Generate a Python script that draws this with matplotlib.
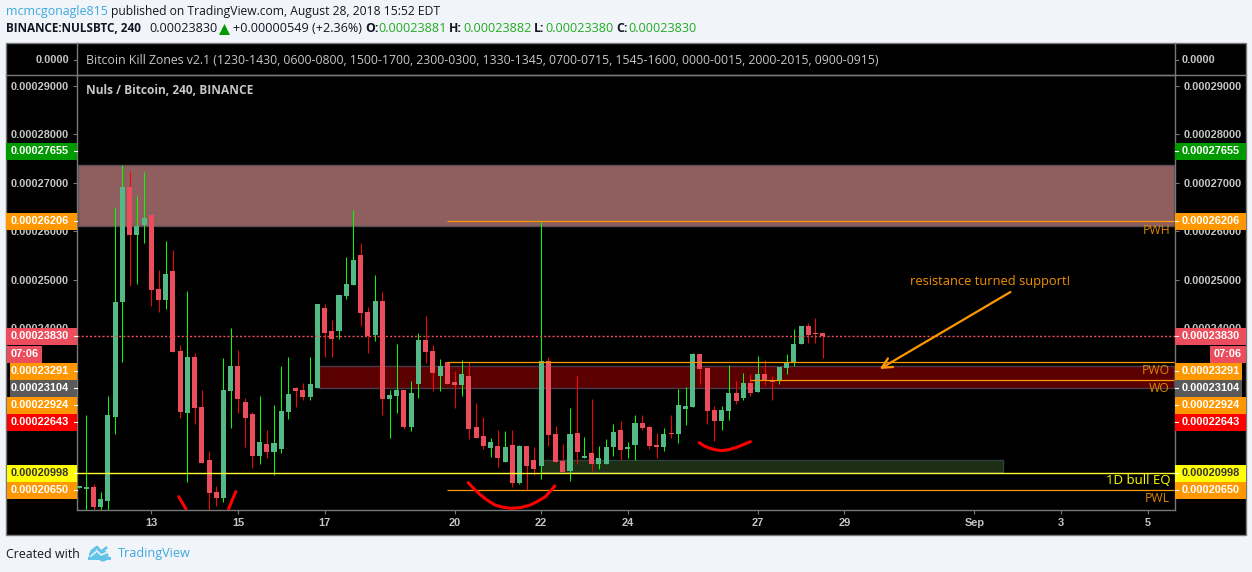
"""NULS/BTC 4h candles with zones, recreated from a TradingView snapshot"""

import matplotlib
matplotlib.use("Agg")
import matplotlib.pyplot as plt
from matplotlib.patches import Circle, Polygon, Rectangle
import numpy as np

# prices are in satoshi (1e-8 BTC); bar 0 is the first 4h bar of Aug 13
first_bar = -10
opens = [20705, 20685, 20719, 20306, 20437, 22165, 24539, 26914, 25923, 26129,
         26336, 24808, 24581, 25180, 23527, 22247, 23404, 22371, 21277, 20616,
         20492, 22702, 23218, 22474, 22227, 21359, 21607, 21442, 21504, 22268,
         22764, 22722, 22578, 22764, 24415, 23941, 23941, 24663, 24890, 25510,
         24333, 23858, 24560, 22536, 22598, 22722, 21958, 22846, 23755, 23528,
         23012, 23301, 22888, 22826, 23012, 21959, 21773, 21525, 21566, 21236,
         21587, 20802, 21566, 21277, 21153, 23322, 21814, 21257, 21050, 21835,
         21318, 21422, 21195, 21195, 21546, 21897, 21504, 21587, 22041, 21959,
         21587, 21546, 21835, 21814, 22330, 22372, 23466, 23177, 22310, 22083,
         22289, 22661, 22557, 22867, 22681, 23053, 22929, 22929, 23177, 23301,
         23673, 24044, 23900, 23900]
highs = [20733, 22206, 20781, 20616, 22598, 26501, 27368, 27244, 26728, 27224,
         26336, 25200, 25799, 25613, 23651, 24766, 23486, 22722, 21463, 20740,
         23383, 24002, 23548, 22557, 22268, 22598, 21896, 22412, 23218, 23404,
         22784, 22867, 23404, 24498, 24498, 24168, 24684, 25469, 26439, 25758,
         24436, 25097, 24746, 22722, 23672, 22722, 22908, 23899, 24251, 23652,
         23363, 23301, 23115, 23342, 23301, 22454, 22165, 21732, 21897, 21876,
         21897, 21587, 21566, 21546, 26206, 23404, 21979, 21608, 22351, 23012,
         21752, 22537, 21566, 21711, 22021, 22083, 21649, 22207, 22207, 22000,
         21835, 21938, 22207, 22743, 22785, 23487, 23466, 23204, 22392, 22392,
         23239, 22909, 23074, 23053, 23425, 23342, 23012, 23198, 23466, 23982,
         24044, 24106, 24209, 23900]
lows = [20705, 20200, 20200, 20200, 20200, 21814, 23307, 24870, 24911, 25758,
        24457, 24333, 24395, 23507, 22144, 20822, 22020, 21215, 20200, 20327,
        20409, 21938, 22247, 21545, 21112, 21194, 21318, 20967, 21421, 22123,
        22371, 22516, 22516, 22764, 23404, 23404, 23775, 24601, 24890, 24044,
        23486, 23734, 22206, 21731, 22247, 21917, 21876, 22550, 23280, 22702,
        22702, 22847, 22351, 22599, 21711, 21732, 21504, 21339, 21133, 21236,
        20720, 20782, 20658, 20968, 20885, 21566, 21236, 21030, 20844, 21195,
        21318, 21050, 21091, 21195, 21360, 21277, 21318, 21277, 21897, 21504,
        21318, 21463, 21732, 21628, 22000, 22372, 22847, 22021, 21670, 21897,
        22103, 22434, 22516, 22599, 22681, 22826, 22516, 22847, 23053, 23218,
        23673, 23693, 23693, 23383]
closes = [20733, 20719, 20306, 20472, 22206, 24539, 26914, 25923, 26109, 26274,
          24787, 24581, 25118, 23507, 22268, 23404, 22351, 21215, 20595, 20492,
          22722, 23218, 22536, 22144, 21359, 21648, 21442, 21628, 22289, 22640,
          22702, 22578, 22846, 24498, 23899, 23775, 24684, 24911, 25407, 24312,
          23837, 24560, 22536, 22619, 22722, 21958, 22660, 23755, 23507, 23074,
          23218, 22847, 22826, 23053, 21917, 21732, 21566, 21649, 21318, 21546,
          20802, 21566, 21153, 21091, 23322, 21794, 21236, 21030, 21814, 21443,
          21360, 21195, 21318, 21546, 21855, 21484, 21546, 22041, 21938, 21566,
          21546, 21814, 21814, 22413, 22392, 23466, 23156, 22289, 22083, 22310,
          22661, 22496, 22867, 22661, 23053, 22909, 22888, 23198, 23301, 23673,
          24044, 23858, 23879, 23830]

# x tick labels (bar index, text)
date_bars = [0, 12, 24, 42, 54, 66, 84, 96, 114, 126, 138]
date_labels = ["13", "15", "17", "20", "22", "24", "27", "29", "Sep", "3", "5"]
price_ticks = [24000, 25000, 26000, 27000, 28000, 29000]

# zones: first bar, last bar, low, high
resistance_zone = (-10.2, 141.6, 26109, 27369)
flip_zone = (23.3, 141.6, 22771, 23218)
demand_zone = (54, 118, 21036, 21277)

last_price = 23830
week_high = 26206
week_open = 23291
this_week_open = 22924
bull_eq = 20998
week_low = 20650

# hand drawn smiles (bar, price)
arc_left_bars, arc_left_prices = [3.8, 4.8], [20520, 20265]
arc_right_bars, arc_right_prices = [11.7, 10.7], [20623, 20265]
arc_big_bars = [43.9, 44.7, 45.6, 46.6, 47.6, 48.7, 49.9, 51.2, 52.5, 53.6, 54.6, 55.9]
arc_big_prices = [20809, 20680, 20555, 20440, 20348, 20300, 20279, 20295, 20348, 20430, 20520, 20740]
arc_small_bars = [75.9, 76.6, 77.4, 78.2, 79, 80, 81.1, 82, 83]
arc_small_prices = [21635, 21565, 21518, 21485, 21470, 21490, 21539, 21595, 21656]

# axis tags: text, y pixel, box edge, box colour, text colour
left_tags = [("0.00027655", 151, 6, "#009900", "white"),
             ("0.00026206", 221, 6, "#FF9800", "white"),
             ("0.00023830", 336, 6, "#EB4D5C", "white"),
             ("0.00023291", 371, 10, "#FF9800", "white"),
             ("0.00023104", 388, 10, "#5A5A5A", "white"),
             ("0.00022924", 405, 7, "#FF9800", "white"),
             ("0.00022643", 422, 7, "#FF0000", "white"),
             ("0.00020998", 473, 7, "#FFFF00", "#333333"),
             ("0.00020650", 490, 7, "#FF9800", "white")]
right_tags = [("0.00027655", 151, 1246, "#009900", "white"),
              ("0.00026206", 221, 1246, "#FF9800", "white"),
              ("0.00023830", 336, 1246, "#EB4D5C", "white"),
              ("0.00023291", 371, 1242, "#FF9800", "white"),
              ("0.00023104", 388, 1242, "#5A5A5A", "white"),
              ("0.00022924", 405, 1246, "#FF9800", "white"),
              ("0.00022643", 422, 1246, "#FF0000", "white"),
              ("0.00020998", 473, 1246, "#FFFF00", "#333333"),
              ("0.00020650", 490, 1246, "#FF9800", "white")]

PAGE = "#F1F4F8"
UP, DOWN = "#53B987", "#EB4D5C"
UP_WICK, DOWN_WICK = "#00FF00", "#FF0000"
ORANGE = "#FF9800"
GRAY = "#787878"
TICK_TEXT = "#C4C4C4"
SANS = "Open Sans"
AXIS_FONT = "Liberation Sans"
AXIS_SIZE = 7.9

W, H = 1252, 572
fig = plt.figure(figsize=(W / 100, H / 100), dpi=100, facecolor=PAGE)

# page layer, in pixels
back = fig.add_axes([0, 0, 1, 1], zorder=0)
back.set_xlim(0, W)
back.set_ylim(H, 0)
back.axis("off")
back.add_patch(Rectangle((6, 43), 1240, 492, fc="black", ec=GRAY, lw=1))

# price pane
ax = fig.add_axes([77 / W, (H - 510) / H, 1098 / W, 435 / H], zorder=1, facecolor="black")
ax.set_xlim(-10.29, 141.8)
ax.set_ylim(20244, 29228)

for zone, face, edge in [(resistance_zone, "#8F5F5F", "#5A4F58"),
                         (flip_zone, "#5A0000", "#4A3A4A"),
                         (demand_zone, "#1C2E14", "#2F4040")]:
    ax.add_patch(Rectangle((zone[0], zone[2]), zone[1] - zone[0], zone[3] - zone[2],
                           fc=face, ec=edge, lw=1, zorder=1))

bars = np.arange(len(opens)) + first_bar
opens, highs = np.array(opens), np.array(highs)
lows, closes = np.array(lows), np.array(closes)
rising = closes >= opens
# snapped so each wick lands on one full pixel column
wicks = ax.vlines(bars, lows, highs, colors=np.where(rising, UP_WICK, DOWN_WICK),
                  lw=0.72, zorder=2)
wicks.set_snap(True)
ax.bar(bars, np.maximum(np.abs(closes - opens), 25), bottom=np.minimum(opens, closes),
       width=0.7, color=np.where(rising, UP, DOWN), lw=0, antialiased=False, zorder=3)

ax.axhline(last_price, color=DOWN, lw=1, ls=(0, (1.5, 1.5)), zorder=4)
ax.axhline(bull_eq, color="#FFFF33", lw=1, zorder=4)
ax.hlines([week_high, week_open, week_low], 41, 141.6, color=ORANGE, lw=0.9, zorder=4)
ax.hlines(this_week_open, 83, 141.6, color=ORANGE, lw=0.9, zorder=4)

for xs, ys in [(arc_left_bars, arc_left_prices), (arc_right_bars, arc_right_prices),
               (arc_big_bars, arc_big_prices), (arc_small_bars, arc_small_prices)]:
    ax.plot(xs, ys, color="#FF0000", lw=2.2, solid_capstyle="round", zorder=5)

ax.annotate("", xy=(100.9, 23156), xytext=(119, 24746),
            arrowprops=dict(arrowstyle="->", color=ORANGE, lw=1.6, mutation_scale=18,
                            shrinkA=0, shrinkB=0),
            zorder=5)

ax.set_xticks(date_bars, date_labels)
ax.set_yticks(price_ticks, [f"{p / 1e8:.8f}" for p in price_ticks])
ax.tick_params(axis="y", left=True, right=True, labelleft=True, labelright=True,
               length=3, width=0.8, color=GRAY, labelcolor=TICK_TEXT,
               labelsize=AXIS_SIZE, pad=3)
ax.tick_params(axis="x", length=3, width=0.8, color=GRAY, labelcolor=TICK_TEXT,
               labelsize=AXIS_SIZE, pad=3)
for lab in ax.get_xticklabels() + ax.get_yticklabels():
    lab.set_fontfamily(AXIS_FONT)
    lab.set_fontweight("bold")
for side in ax.spines.values():
    side.set_color(GRAY)
    side.set_linewidth(1)

# everything placed by pixel on top
top = fig.add_axes([0, 0, 1, 1], zorder=2)
top.set_xlim(0, W)
top.set_ylim(H, 0)
top.axis("off")


def say(x, y, text, color="#131722", size=9, weight="normal", ha="left", family=SANS):
    return top.text(x, y, text, color=color, fontsize=size, fontweight=weight,
                    ha=ha, va="center", family=family)


def axis_say(x, y, text, color, ha="left"):
    return say(x, y, text, color, AXIS_SIZE, "bold", ha, AXIS_FONT)


for text, y, x0, face, ink in left_tags:
    top.add_patch(Rectangle((x0, y - 8.5), 77 - x0, 17, fc=face, lw=0))
    top.plot([74, 77], [y, y], color="white", lw=0.8)
    axis_say(69, y, text, ink, ha="right")
for text, y, x1, face, ink in right_tags:
    top.add_patch(Rectangle((1175, y - 8.5), x1 - 1175, 17, fc=face, lw=0))
    top.plot([1175, 1178], [y, y], color="white", lw=0.8)
    axis_say(1182, y, text, ink)

top.add_patch(Rectangle((7, 345.5), 35, 17, fc=DOWN, lw=0))
axis_say(24.5, 354, "07:06", "white", ha="center")
top.add_patch(Rectangle((1210, 345.5), 36, 17, fc=DOWN, lw=0))
axis_say(1228, 354, "07:06", "white", ha="center")

# indicator strip above the price pane
top.plot([6, 1246], [75, 75], color=GRAY, lw=1)
top.plot([77, 77], [43, 75], color=GRAY, lw=1)
top.plot([1175, 1175], [43, 75], color=GRAY, lw=1)
top.plot([74, 77], [60, 60], color=GRAY, lw=0.8)
top.plot([1175, 1178], [60, 60], color=GRAY, lw=0.8)
axis_say(69, 60, "0.0000", TICK_TEXT, ha="right")
axis_say(1182, 60, "0.0000", TICK_TEXT)
say(86, 60, "Bitcoin Kill Zones v2.1 (1230-1430, 0600-0800, 1500-1700, 2300-0300, "
    "1330-1345, 0700-0715, 1545-1600, 0000-0015, 2000-2015, 0900-0915)", "#C8C8C8", 8.85)
say(86, 91, "Nuls / Bitcoin, 240, BINANCE", "#C8C8C8", 8.6, "bold")

say(910, 282, "resistance turned support!", "#F09000", 9.3)
say(1170, 230, "PWH", "#E08800", 8.8, ha="right")
say(1170, 371, "PWO", "#E08800", 8.8, ha="right")
say(1170, 388, "WO", "#E08800", 8.8, ha="right")
say(1170, 481, "1D bull EQ", "#FFFF00", 9.5, ha="right")
say(1170, 499, "PWL", "#E08800", 8.8, ha="right")

# header
say(6, 11, "mcmcgonagle815", "#3FA9DE", 8.9)
say(111, 11, "published on TradingView.com, August 28, 2018 15:52 EDT", size=8.75)
say(6, 29, "BINANCE:NULSBTC, 240", size=8.5, weight="bold")
say(149, 29, "0.00023830", size=9.1)
top.add_patch(Polygon([(219, 35), (230, 35), (224.5, 24)], fc="#009900", lw=0))
say(233, 29, "+0.00000549 (+2.36%)", size=9.05)
for x_key, x_val, key, val in [(365, 378, "O:", "0.00023881"), (449, 463, "H:", "0.00023882"),
                               (534, 545, "L:", "0.00023380"), (616, 628, "C:", "0.00023830")]:
    say(x_key, 29, key, size=8.8, weight="bold")
    say(x_val, 29, val, "#22AB22", 9.1)

# footer
say(6, 554, "Created with", size=8.9)
for cx, cy, r in [(94, 555, 5), (103, 556, 5.5), (99, 553, 4)]:
    top.add_patch(Circle((cx, cy), r, fc="#62C4E8", lw=0))
top.add_patch(Polygon([(88, 560), (111, 560), (111, 557), (88, 557)], fc="#62C4E8", lw=0))
top.plot([92, 97, 101, 106], [551, 547, 552, 548], color="#62C4E8", lw=2)
top.plot([91, 97, 101, 108], [556, 551, 555, 552], color=PAGE, lw=1.1)
say(118, 554, "TradingView", "#3FA9DE", 9.1)

fig.savefig("out.png", dpi=100, facecolor=PAGE)
